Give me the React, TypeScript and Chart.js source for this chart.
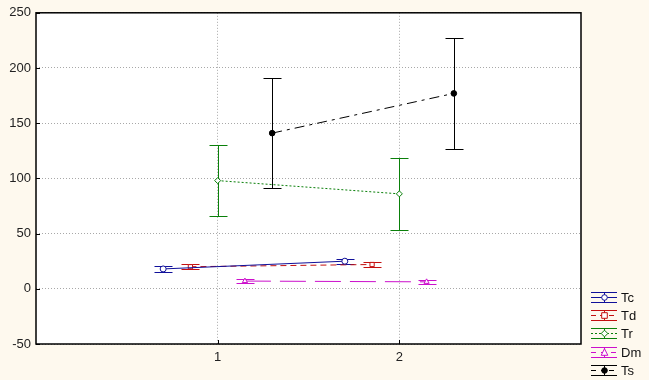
import React, { useEffect, useRef } from "react";
import { Chart, registerables } from "chart.js";
Chart.register(...registerables);

const groups = [1, 2];
const xTickLabels = ["1", "2"];
const seriesNames = ["Tc", "Td", "Tr", "Dm", "Ts"];
const seriesOffsets = [-0.3, -0.15, 0, 0.15, 0.3];
const tcMeans = [18, 25];
const tdMeans = [20, 22];
const trMeans = [98, 86];
const dmMeans = [7, 6.3];
const tsMeans = [141, 177];
const tcErr = [2.8, 2.4];
const tdErr = [2.2, 2.2];
const trErr = [32, 32.5];
const dmErr = [1.5, 1.5];
const tsErr = [50, 50];
const yMin = -50;
const yMax = 250;
const yStep = 50;

const means = [tcMeans, tdMeans, trMeans, dmMeans, tsMeans];
const errs = [tcErr, tdErr, trErr, dmErr, tsErr];
const colors = ["#10109a", "#c41010", "#0a800a", "#cc10cc", "#000000"];
const dashes = [[], [6, 4], [2, 2], [26, 9], [10, 5, 3, 5]];
const markers = ["circle", "rect", "rectRot", "triangle", "circle"];
const fills = ["#ffffff", "#ffffff", "#ffffff", "#ffffff", "#000000"];
const FONT = '"Liberation Sans", Arial, sans-serif';

function drawMarker(ctx, style, x, y, r, stroke, fill) {
  ctx.save();
  ctx.setLineDash([]);
  ctx.lineWidth = 1;
  ctx.strokeStyle = stroke;
  ctx.fillStyle = fill;
  ctx.beginPath();
  if (style === "circle") {
    ctx.arc(x, y, r, 0, Math.PI * 2);
  } else if (style === "rect") {
    ctx.rect(x - r, y - r, 2 * r, 2 * r);
  } else if (style === "rectRot") {
    ctx.moveTo(x, y - r - 0.5);
    ctx.lineTo(x + r + 0.5, y);
    ctx.lineTo(x, y + r + 0.5);
    ctx.lineTo(x - r - 0.5, y);
    ctx.closePath();
  } else if (style === "triangle") {
    ctx.moveTo(x, y - r - 1);
    ctx.lineTo(x + r + 0.5, y + r);
    ctx.lineTo(x - r - 0.5, y + r);
    ctx.closePath();
  }
  ctx.fill();
  ctx.stroke();
  ctx.restore();
}

const chartPlugin = {
  id: "statStyle",
  beforeDraw(chart) {
    const { ctx, chartArea: a } = chart;
    ctx.save();
    ctx.fillStyle = "#fef9ee";
    ctx.fillRect(0, 0, chart.width, chart.height);
    ctx.fillStyle = "#ffffff";
    ctx.fillRect(a.left, a.top, a.right - a.left, a.bottom - a.top);
    ctx.restore();
  },
  beforeDatasetsDraw(chart) {
    const { ctx } = chart;
    const xs = chart.scales.x;
    const ys = chart.scales.y;
    ctx.save();
    ctx.lineWidth = 1;
    ctx.setLineDash([]);
    means.forEach((m, si) => {
      ctx.strokeStyle = colors[si];
      m.forEach((v, gi) => {
        const px = Math.round(xs.getPixelForValue(groups[gi] + seriesOffsets[si])) + 0.5;
        const hi = Math.round(ys.getPixelForValue(v + errs[si][gi])) + 0.5;
        const lo = Math.round(ys.getPixelForValue(v - errs[si][gi])) + 0.5;
        ctx.beginPath();
        ctx.moveTo(px, hi);
        ctx.lineTo(px, lo);
        ctx.moveTo(px - 9, hi);
        ctx.lineTo(px + 9, hi);
        ctx.moveTo(px - 9, lo);
        ctx.lineTo(px + 9, lo);
        ctx.stroke();
      });
    });
    ctx.restore();
  },
  afterDraw(chart) {
    const { ctx, chartArea: a } = chart;
    const xs = chart.scales.x;
    const ys = chart.scales.y;
    ctx.save();
    ctx.strokeStyle = "#000000";
    ctx.lineWidth = 1.5;
    ctx.setLineDash([]);
    ctx.strokeRect(a.left, a.top, a.right - a.left, a.bottom - a.top);
    ctx.lineWidth = 1;
    ctx.beginPath();
    for (let v = yMin; v <= yMax; v += yStep) {
      const py = Math.round(ys.getPixelForValue(v)) + 0.5;
      ctx.moveTo(a.left, py);
      ctx.lineTo(a.left + 4, py);
    }
    groups.forEach((g) => {
      const px = Math.round(xs.getPixelForValue(g)) + 0.5;
      ctx.moveTo(px, a.bottom);
      ctx.lineTo(px, a.bottom - 4);
    });
    ctx.stroke();

    // legend
    seriesNames.forEach((name, si) => {
      const cy = Math.round(297 + si * 18.2) + 0.5;
      const x0 = 591;
      const x1 = 617;
      const xm = 604.5;
      ctx.strokeStyle = colors[si];
      ctx.lineWidth = 1;
      ctx.setLineDash([]);
      ctx.beginPath();
      ctx.moveTo(x0, cy - 5);
      ctx.lineTo(x1, cy - 5);
      ctx.moveTo(x0, cy + 5);
      ctx.lineTo(x1, cy + 5);
      ctx.moveTo(xm, cy - 5);
      ctx.lineTo(xm, cy + 5);
      ctx.stroke();
      ctx.setLineDash(dashes[si].map((d) => Math.min(d, 5)));
      ctx.beginPath();
      ctx.moveTo(x0, cy);
      ctx.lineTo(x1, cy);
      ctx.stroke();
      drawMarker(ctx, markers[si], xm, cy, 2.8, colors[si], fills[si]);
      ctx.setLineDash([]);
      ctx.fillStyle = "#111111";
      ctx.font = "13px " + FONT;
      ctx.textBaseline = "middle";
      ctx.textAlign = "left";
      ctx.fillText(name, 621, cy + 1);
    });
    ctx.restore();
  },
};

export default function App() {
  const canvasRef = useRef(null);
  useEffect(() => {
    document.body.style.margin = "0";
    const datasets = seriesNames.map((name, si) => ({
      label: name,
      data: means[si].map((v, gi) => ({ x: groups[gi] + seriesOffsets[si], y: v })),
      showLine: true,
      borderColor: colors[si],
      borderWidth: 1,
      borderDash: dashes[si],
      pointStyle: markers[si],
      pointRadius: si === 4 ? 2.8 : 3,
      pointBackgroundColor: fills[si],
      pointBorderColor: colors[si],
      pointBorderWidth: 1,
      fill: false,
    }));
    const chart = new Chart(canvasRef.current, {
      type: "scatter",
      data: { datasets },
      plugins: [chartPlugin],
      options: {
        animation: false,
        responsive: false,
        maintainAspectRatio: false,
        layout: { padding: { top: 12, right: 68, bottom: 0, left: 0 } },
        plugins: { legend: { display: false }, tooltip: { enabled: false } },
        scales: {
          x: {
            type: "linear",
            min: 0,
            max: 3,
            afterFit: (s) => {
              s.height = 36;
            },
            afterBuildTicks: (s) => {
              s.ticks = [0, 1, 2, 3].map((v) => ({ value: v }));
            },
            ticks: {
              padding: 6,
              color: "#222222",
              font: { size: 13, family: FONT },
              callback: (v) => {
                const i = groups.indexOf(v);
                return i >= 0 ? xTickLabels[i] : "";
              },
            },
            grid: {
              drawTicks: false,
              color: (c) => (c.tick && groups.includes(c.tick.value) ? "#a8a8a8" : "rgba(0,0,0,0)"),
              lineWidth: 1,
            },
            border: { display: false, dash: [1, 2] },
          },
          y: {
            type: "linear",
            min: yMin,
            max: yMax,
            afterFit: (s) => {
              s.width = 36;
            },
            ticks: {
              stepSize: yStep,
              padding: 5,
              color: "#222222",
              font: { size: 13, family: FONT },
            },
            grid: {
              drawTicks: false,
              color: "#a8a8a8",
              lineWidth: 1,
            },
            border: { display: false, dash: [1, 2] },
          },
        },
      },
    });
    return () => chart.destroy();
  }, []);
  return (
    <div style={{ position: "absolute", left: 0, top: 0, width: 649, height: 380 }}>
      <canvas ref={canvasRef} width={649} height={380} style={{ width: 649, height: 380, display: "block" }} />
    </div>
  );
}
